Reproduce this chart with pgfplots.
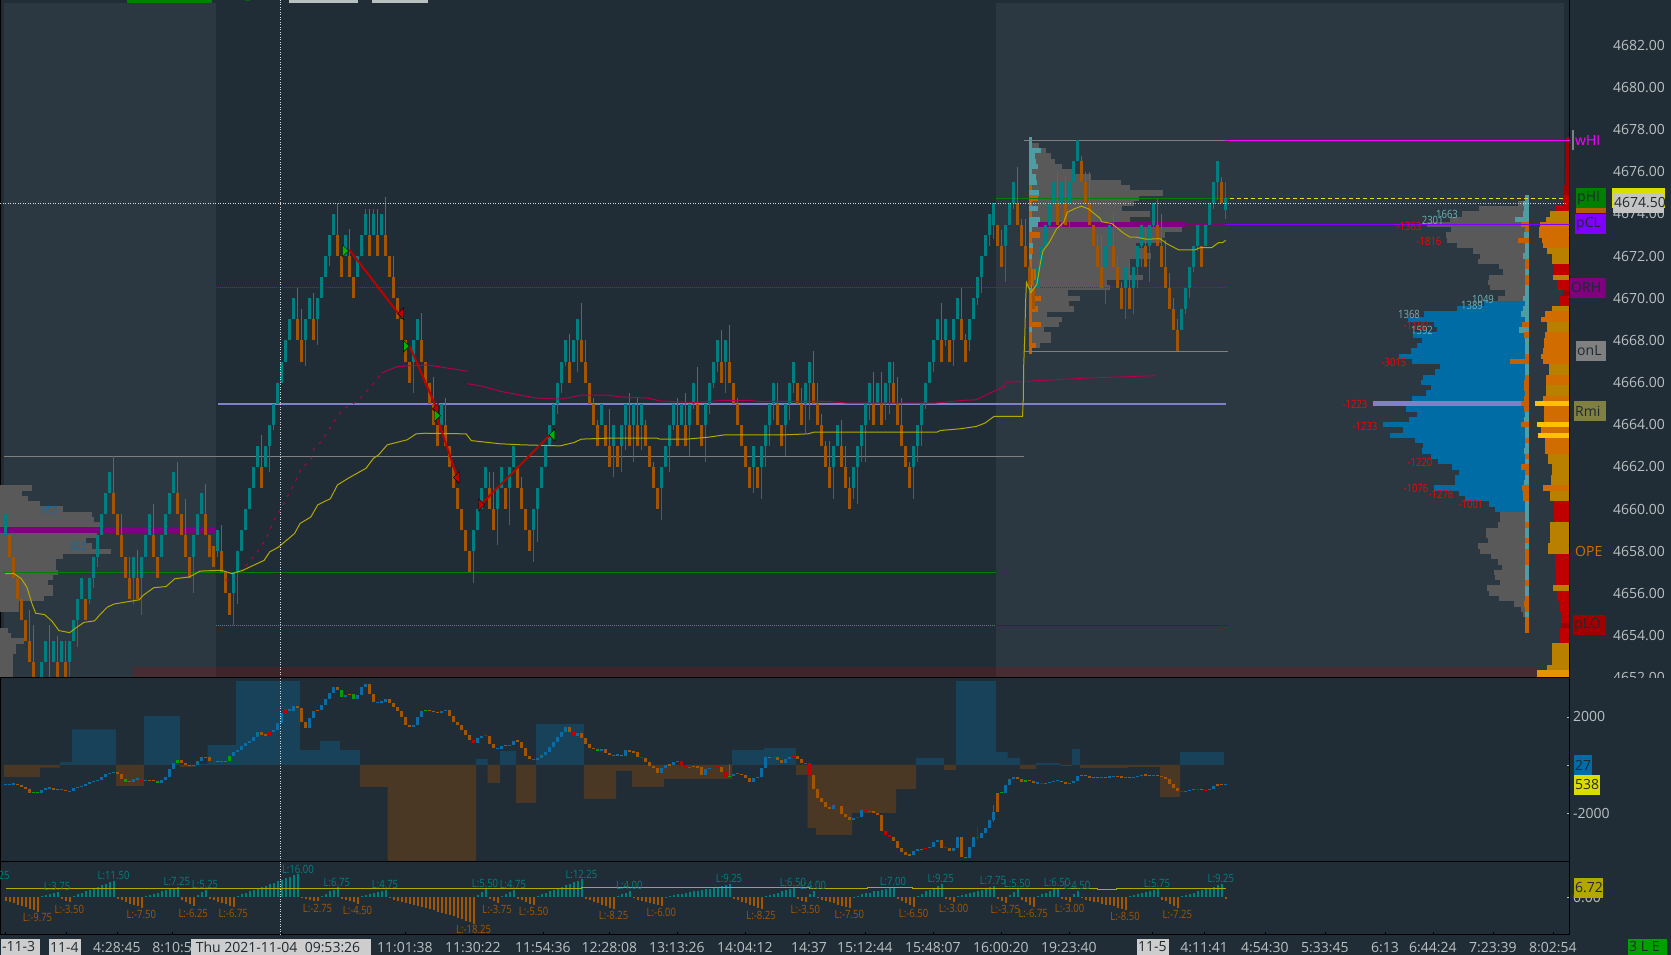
\documentclass[border=0pt]{standalone}
\usepackage{fontspec}
\setmainfont{Open Sans}
\usepackage{graphicx}
\usepackage{pgfplots}
\usepackage{pgfplotstable}
\pgfplotsset{compat=1.18}

\definecolor{bg}{HTML}{212D36}
\definecolor{bglight}{HTML}{2B3842}
\definecolor{up}{HTML}{007F80}
\definecolor{down}{HTML}{A35400}
\definecolor{tickc}{HTML}{B9C0C2}
\definecolor{gprof}{HTML}{595959}
\definecolor{colT}{HTML}{4F9CA3}
\definecolor{colO}{HTML}{C46000}
\definecolor{vred}{HTML}{C00000}
\definecolor{vgold}{HTML}{B98000}
\definecolor{vorange}{HTML}{D06C00}
\definecolor{vdark}{HTML}{A00000}
\definecolor{vyellow}{HTML}{FFC000}
\definecolor{vamber}{HTML}{E89400}
\definecolor{vblue}{HTML}{006CA5}
\definecolor{lav}{HTML}{8080C8}
\definecolor{vwap}{HTML}{B3A800}
\definecolor{maline}{HTML}{B0004E}
\definecolor{cvdblue}{HTML}{0B6BA5}
\definecolor{dpos}{HTML}{17425A}
\definecolor{dneg}{HTML}{4A3825}
\definecolor{tagdark}{HTML}{1F2A30}
\definecolor{pgreen}{HTML}{008000}
\definecolor{ppurple}{HTML}{800080}
\definecolor{pdot}{HTML}{990099}
\definecolor{pmag}{HTML}{FF00FF}
\definecolor{pviolet}{HTML}{8000FF}
\definecolor{plow}{HTML}{A55F1E}
\definecolor{pdred}{HTML}{8B0000}
\definecolor{tgreen}{HTML}{00B400}
\definecolor{pstrip}{HTML}{B06000}
\definecolor{polive}{HTML}{808040}
\definecolor{pyel}{HTML}{DCDC00}
\definecolor{pgrey}{HTML}{C4C4C4}
\definecolor{dtag}{HTML}{CDCDCD}
\definecolor{lgreen}{HTML}{00A000}

% renko bars: body low, wick above the body, wick below the body, 1 = up
\pgfplotstableread[row sep=\\]{
lo u d k\\
4658.75 0 .45 1\\4657.75 0 0 0\\4656.75 0 0 0\\4655.75 0 0 0\\4654.75 0 0 0\\4653.75 0 0 0\\4652.75 1.45 0 0\\4651.75 1.75 0 0\\4650.75 0 0 0\\4651.75 0 0 1\\
4652.75 0 0 1\\4650.75 2.75 0 0\\4652.75 0 0 1\\4651.75 1.25 0 0\\4652.75 0 0 1\\4651.75 1 0 0\\4652.75 0 1 1\\4653.75 0 0 1\\4654.75 0 1.3 1\\4655.75 0 0 1\\
4654.75 0 0 0\\4655.75 0 .25 1\\4656.75 0 .5 1\\4657.75 0 .5 1\\4658.75 0 0 1\\4659.75 0 0 1\\4660.75 0 0 1\\4659.75 1.75 0 0\\4658.75 0 0 0\\4657.75 1 0 0\\
4656.75 0 0 0\\4655.75 1 0 0\\4656.75 0 1.25 1\\4655.75 1.3 0 0\\4656.75 0 1.75 1\\4657.75 0 0 1\\4658.75 0 0 1\\4657.75 1.5 0 0\\4656.75 0 0 0\\4657.75 0 0 1\\
4658.75 0 0 1\\4659.75 0 0 1\\4660.75 0 0 1\\4659.75 1.5 0 0\\4658.75 0 0 0\\4657.75 1.75 0 0\\4656.75 0 0 0\\4657.75 0 1.75 1\\4658.75 0 0 1\\4659.75 0 0 1\\
4658.75 1.45 0 0\\4657.75 0 0 0\\4657.25 0 0 0\\4658 0 .25 1\\4657 1.25 0 0\\4656 0 0 0\\4655 0 0 0\\4656 0 1.5 1\\4657 0 1.5 1\\4658 0 0 1\\
4659 0 0 1\\4660 0 0 1\\4661 0 0 1\\4662 0 0 1\\4661 1.5 0 0\\4662 0 0 1\\4663 0 1.25 1\\4664 0 .25 1\\4665 0 0 1\\4666 0 0 1\\
4667 0 0 1\\4668 0 0 1\\4669 0 0 1\\4668 1.5 0 0\\4667 1.5 0 0\\4668 0 1.2 1\\4669 0 0 1\\4668 1.25 0 0\\4669 0 1.2 1\\4670 0 0 1\\
4671 0 0 1\\4672 0 .45 1\\4673 0 0 1\\4672 1.5 0 0\\4671 0 0 0\\4672 0 0 1\\4671 1.3 0 0\\4670 0 0 0\\4671 0 0 1\\4672 0 0 1\\
4673 .25 0 1\\4672 1.25 0 0\\4673 .25 0 1\\4672 1.25 0 0\\4673 0 0 1\\4672 1.8 0 0\\4671 0 0 0\\4670 1 0 0\\4669 0 0 0\\4668 0 0 0\\
4667 0 0 0\\4666 0 0 0\\4667 0 1.5 1\\4668 0 0 1\\4667 1.3 0 0\\4666 0 0 0\\4665 0 0 0\\4664 1.25 0 0\\4663 0 0 0\\4664 0 0 1\\
4663 1.25 0 0\\4662 0 0 0\\4661 0 0 0\\4660 0 0 0\\4659 0 0 0\\4658 0 0 0\\4657 0 0 0\\4658 0 1.5 1\\4659 0 0 1\\4660 0 0 1\\
4661 0 0 1\\4660 .75 0 0\\4659 1.75 0 0\\4660 0 1.7 1\\4661 0 0 1\\4660 0 0 0\\4661 0 1.75 1\\4662 0 0 1\\4661 0 0 0\\4660 .5 0 0\\
4659 0 0 0\\4658 0 0 0\\4659 0 1.5 1\\4660 0 1.55 1\\4661 0 0 1\\4662 0 0 1\\4663 0 0 1\\4664 0 0 1\\4665 0 .5 1\\4666 0 .5 1\\
4667 0 .2 1\\4666 1.3 0 0\\4667 0 0 1\\4668 0 1.5 1\\4667 1.8 0 0\\4666 1 0 0\\4665 0 0 0\\4664 .25 0 0\\4663 .25 0 0\\4664 0 0 1\\
4663 0 0 0\\4662 1.75 0 0\\4663 0 1.5 1\\4662 0 0 0\\4663 0 1.25 1\\4664 0 1.2 1\\4663 1.5 0 0\\4664 0 1.75 1\\4663 1.25 0 0\\4664 0 1.2 1\\
4663 .25 0 0\\4662 0 0 0\\4661 .25 0 0\\4660 0 0 0\\4661 0 1.5 1\\4662 0 0 1\\4663 0 1.25 1\\4664 0 .25 1\\4663 1.25 0 0\\4664 0 0 1\\
4663 1.5 0 0\\4664 0 1.5 1\\4665 0 .25 1\\4664 1.75 0 0\\4663 0 0 0\\4664 0 1.75 1\\4665 0 .5 1\\4666 0 .25 1\\4667 0 .5 1\\4666 1.5 0 0\\
4667 0 1.5 1\\4666 1.75 0 0\\4665 0 0 0\\4664 .25 0 0\\4663 0 0 0\\4662 0 0 0\\4661 0 0 0\\4662 0 1.25 1\\4661 0 0 0\\4662 0 1.5 1\\
4663 0 1 1\\4664 0 1 1\\4665 0 .75 1\\4664 1 0 0\\4663 0 0 0\\4664 0 1.5 1\\4665 0 .75 1\\4666 0 .5 1\\4665 0 0 0\\4664 .75 0 0\\
4665 0 1.4 1\\4666 0 1.75 1\\4665 1.5 0 0\\4664 1 0 0\\4663 .5 0 0\\4662 .25 0 0\\4661 1.25 0 0\\4662 0 1.5 1\\4663 0 0 1\\4662 1.25 0 0\\
4661 1 0 0\\4660 .5 0 0\\4661 0 .5 1\\4662 0 1.75 1\\4663 0 .75 1\\4664 0 1.75 1\\4665 0 .75 1\\4664 1.5 0 0\\4665 0 0 1\\4664 1.5 0 0\\
4665 0 .75 1\\4666 0 1.5 1\\4665 1 0 0\\4664 1.25 0 0\\4663 1.25 0 0\\4662 0 0 0\\4661 .25 0 0\\4662 0 1.5 1\\4663 0 .75 1\\4664 0 1 1\\
4665 0 .25 1\\4666 0 0 1\\4667 0 .5 1\\4668 0 0 1\\4667 1.8 0 0\\4668 0 .25 1\\4667 0 0 0\\4668 0 1.2 1\\4669 0 0 1\\4668 1.5 0 0\\
4667 .3 0 0\\4668 0 .5 1\\4669 0 0 1\\4670 0 .3 1\\4671 0 .75 1\\4672 0 0 1\\4673 0 .5 1\\4673.5 0 .7 1\\4672.5 0 0 0\\4671.5 .75 0 0\\
4672.5 0 1.75 1\\4673.5 0 0 1\\4674.5 0 .25 1\\4673.5 1.75 0 0\\4672.5 .25 0 0\\4671.5 1.25 0 0\\4670.5 .3 0 0\\4669.5 .9 0 0\\4670.5 0 .45 1\\4671.5 0 0 1\\
4672.5 0 1.65 1\\4673.5 0 .45 1\\4674.5 0 .25 1\\4673.5 1.5 0 0\\4674.5 0 1.5 1\\4673.5 1.25 0 0\\4674.5 0 1.5 1\\4675.5 0 1.25 1\\4676.5 0 0 1\\4675.5 .25 0 0\\
4674.5 .5 0 0\\4673.5 1.5 0 0\\4672.5 0 0 0\\4671.5 .5 0 0\\4670.5 1.5 0 0\\4671.5 0 1.75 1\\4672.5 0 0 1\\4671.5 1.5 0 0\\4670.5 .45 0 0\\4669.5 .25 0 0\\
4670.5 0 1.5 1\\4669.5 1.2 0 0\\4670.5 0 1.25 1\\4671.5 0 1 1\\4672.5 0 1 1\\4671.5 .9 0 0\\4672.5 0 1.75 1\\4673.5 0 .75 1\\4672.5 1.2 0 0\\4671.5 1.5 0 0\\
4670.5 1.25 0 0\\4669.5 .7 0 0\\4668.5 .5 0 0\\4667.5 .5 0 0\\4668.5 0 0 1\\4669.5 0 .25 1\\4670.5 0 .5 1\\4671.5 0 .25 1\\4672.5 0 .25 1\\4671.5 0 0 0\\
4672.5 0 0 1\\4673.5 0 0 1\\4674.5 0 .25 1\\4675.5 0 .85 1\\4674.5 .25 0 0\\
}\bars

% session profile, left side anchored; rows of 0.25 from 4677.5 down
\pgfplotstableread[row sep=\\]{
w c\\0 0\\1.75 0\\3.5 0\\4.75 0\\5.75 0\\7.5 0\\10 0\\14.75 0\\22.25 0\\24.5 0\\32.75 0\\26.75 0\\25.5 0\\22.5 0\\29.5 0\\24.5 0\\38.25 0\\37.5 0\\33.25 0\\32.25 0\\
26 0\\28.25 0\\29.75 0\\24.5 0\\24.5 0\\24.5 0\\27.75 0\\18.75 0\\19.5 0\\9 0\\12 0\\9.25 0\\10.5 0\\3.75 0\\7.5 0\\6.75 0\\3 0\\4.75 0\\4.75 0\\2 0\\
}\sessprof
\pgfplotstableread[row sep=\\]{
w c\\.75 1\\.75 1\\3 1\\1.5 1\\1.75 1\\2.25 1\\.75 1\\1.75 1\\2 1\\.75 0\\2.5 1\\2.25 0\\.75 0\\2.25 1\\.75 0\\2.75 1\\2.25 1\\.75 1\\2.75 0\\.75 0\\
1 1\\1 0\\.75 1\\.75 0\\.75 0\\1.75 0\\1.75 0\\1.25 0\\.75 1\\.75 0\\3 0\\1.25 0\\2.25 0\\.75 0\\.75 0\\3 0\\.75 1\\.75 0\\.75 0\\1.75 0\\.75 0\\
}\sesscol

% composite profile, right side anchored; rows of 0.25 from 4677.5 down
\pgfplotstableread[row sep=\\]{
w c\\0 0\\0 0\\0 0\\0 0\\0 0\\0 0\\0 0\\0 0\\0 0\\0 0\\0 0\\0 0\\
1.67 0\\11.5 0\\15.75 0\\18.75 0\\24.5 0\\18.5 0\\19.75 0\\19.5 0\\17 0\\13 0\\11.25 0\\11.75 0\\6.5 0\\5.5 0\\9 0\\9.25 0\\8.75 0\\5 0\\6.75 0\\
10.25 1\\17 1\\25.25 1\\29.25 1\\22.75 1\\22 1\\28 1\\25.75 1\\27 1\\28.5 1\\31.5 1\\28.25 1\\21.25 1\\22.5 1\\25.5 1\\26 1\\23.5 1\\24.75 1\\28.25 1\\
38 2\\29.75 1\\27 1\\29 1\\35.5 1\\30.5 1\\33.75 1\\27.5 1\\25.5 1\\25.75 1\\23.5 1\\21.75 1\\18.25 1\\16.5 1\\17.5 1\\17.5 1\\22.75 1\\16.5 1\\15 1\\9 1\\7.5 1\\
6.25 0\\6.25 0\\6.75 0\\9.75 0\\9.75 0\\9.25 0\\11.75 0\\11.25 0\\8.5 0\\6.75 0\\5.75 0\\7.75 0\\7.5 0\\6.25 0\\9.5 0\\9 0\\6.5 0\\2.75 0\\1 0\\.5 0\\
}\compprof
\pgfplotstableread[row sep=\\]{
w c\\0 3\\0 3\\0 3\\0 3\\0 3\\0 3\\0 3\\0 3\\0 3\\0 3\\0 3\\
1 1\\1.5 1\\1.3 1\\1.4 1\\3.5 1\\2 0\\1 0\\1.3 1\\2.75 0\\1 1\\1 1\\1.5 1\\1 0\\1 0\\1 1\\1 0\\1 0\\1 1\\1 1\\1.5 1\\1 1\\1.5 1\\2 1\\1 1\\1.75 0\\2.5 1\\1.25 0\\1 1\\1 1\\1 1\\
1 0\\4.75 0\\1 1\\1 1\\1 0\\1.3 0\\1.3 0\\1 0\\1.25 0\\2 0\\1.3 0\\1 1\\1.3 1\\2 0\\1 1\\1 1\\1 0\\1 1\\1.2 1\\1 0\\1 1\\2 0\\1 0\\1 1\\1.2 1\\1.75 0\\1.5 0\\1.5 0\\1 1\\1 1\\
1 1\\1 1\\1 0\\1 1\\1 1\\1 0\\1 1\\1 0\\1 0\\1 0\\1 1\\1 1\\1 1\\1 0\\1 1\\1 1\\1 0\\1.2 0\\1 0\\1 1\\1 0\\1 0\\1 0\\
}\compcol
% right-most volume histogram: c 1 red, 2 gold, 3 orange, 4 dark red, 5 yellow, 6 amber
\pgfplotstableread[row sep=\\]{
w c\\.75 4\\.75 4\\.75 4\\.75 4\\.75 4\\.75 4\\1 4\\1 4\\1 4\\1.25 4\\1.25 4\\1.25 1\\1.25 1\\3.5 1\\4.75 2\\5.75 2\\7.25 3\\7.5 3\\7.5 3\\6.75 3\\
6.5 3\\5.5 2\\4.25 2\\4.25 2\\3.75 1\\3.75 1\\4 2\\3 1\\3 1\\1.5 4\\2.25 1\\2.25 1\\4.25 2\\6 3\\7 3\\5.5 2\\5.5 2\\6 3\\6.25 3\\6.25 3\\
6.5 3\\7 3\\6.5 3\\5 2\\5 2\\5.75 3\\5.75 3\\5.75 2\\5.75 2\\6.5 3\\8.5 5\\6.25 3\\6.25 3\\6.25 3\\8 5\\7 3\\7.75 5\\6 3\\6 3\\6 3\\
5.25 2\\5.25 2\\4.25 2\\4.25 2\\4.5 2\\4.5 2\\6.5 3\\4.75 2\\4.75 2\\3.75 1\\3.75 1\\3.75 1\\3.75 1\\4.75 2\\4.75 2\\4.75 2\\4.75 2\\5.25 2\\5.25 2\\3.5 1\\
3.5 1\\3.25 1\\3.25 1\\3.25 1\\3.25 1\\4 2\\2.9 1\\2.9 1\\2.25 1\\2.25 1\\2 1\\2 1\\1.75 4\\2.25 1\\2.25 1\\2.25 1\\4.25 2\\4.25 2\\4.25 2\\4.25 2\\
5.5 2\\8 6\\8 6\\
}\volhist
% profile on the left session; rows of 0.25 from 4661 down
\pgfplotstableread[row sep=\\]{
w c\\8 0\\5.4 0\\7 0\\10 0\\15.7 0\\22.8 0\\23.4 0\\25.2 0\\26 0\\24.1 0\\21.4 0\\22.8 0\\27.7 0\\15.6 0\\13.8 0\\13.8 0\\14.3 0\\13.2 0\\12 0\\13.2 0\\13.2 0\\10.9 0\\4.6 0\\4.6 0\\0 0\\0 0\\0 0\\1.8 0\\2.7 0\\5.8 0\\4 0\\4 0\\3.2 0\\3.2 0\\3.2 0\\3.2 0\\3.2 0\\
}\leftprof

% session delta, value at each step edge
\pgfplotstableread[row sep=\\]{
e d\\-0.45 -496\\8.57 -110\\13.57 124\\16.6 1475\\27.6 -869\\34.55 2027\\43.57 -83\\47.6 41\\50.5 827\\57.6 3475\\73.6 620\\78.57 993\\83.57 620\\88.57 -910\\95.5 -3985\\117.6 248\\120.5 -745\\123.6 579\\127.6 -1572\\132.6 1696\\
144.55 -1407\\152.6 -248\\156.6 -910\\164.55 -579\\181.6 620\\189.55 703\\197.6 -414\\200.5 -2606\\202.6 -2896\\211.6 -1986\\222.6 -993\\227.6 290\\234.55 -207\\237.6 3475\\247.6 538\\250.5 290\\253.6 -165\\257.6 83\\263.6 -41\\266.6 662\\268.6 -124\\280.5 -83\\288.6 -1324\\293.6 538\\304.6 538\\
}\deltatbl

% cumulative delta closes; first row only gives the first open. k: 0 up, 1 down, 2 red, 3 green
\pgfplotstableread[row sep=\\]{
c k\\-830 0\\-800 0\\-790 0\\-790 0\\-830 1\\-900 1\\-990 1\\-1140 1\\-1160 3\\-1140 3\\-1030 0\\-970 0\\-940 0\\-1030 1\\-1030 1\\-1030 0\\-1090 1\\-1080 0\\-970 0\\-910 0\\-850 0\\-790 0\\-720 0\\-660 0\\-620 0\\-510 0\\-370 0\\-330 0\\-280 0\\-390 1\\-570 1\\-690 3\\-690 3\\-590 0\\-570 0\\-680 2\\-620 0\\-650 1\\-660 1\\-730 3\\-610 0\\-480 0\\-170 0\\70 0\\190 3\\100 1\\10 1\\-30 1\\10 0\\180 0\\320 0\\320 1\\170 1\\150 2\\150 1\\140 3\\150 1\\370 3\\550 0\\620 0\\790 0\\920 0\\990 0\\1140 0\\1370 0\\1240 1\\1240 1\\1370 2\\1450 0\\1720 0\\2140 0\\2300 2\\2250 0\\2440 0\\2340 1\\1790 1\\1520 1\\1930 0\\2230 0\\2280 1\\2480 0\\2730 0\\2960 0\\3210 0\\3100 1\\2800 3\\2900 0\\2940 1\\2720 3\\2900 0\\3210 0\\3350 0\\2940 1\\2590 1\\2590 0\\2620 0\\2730 0\\2550 1\\2390 1\\2250 1\\2000 1\\1650 1\\1560 1\\1650 0\\2000 0\\2250 0\\2250 3\\2250 1\\2180 1\\2140 1\\2250 0\\2280 0\\2040 1\\1790 1\\1650 1\\1450 1\\1240 1\\1030 1\\920 2\\1100 0\\1210 0\\1200 2\\870 1\\690 1\\660 0\\790 0\\790 1\\830 0\\1010 0\\970 1\\690 1\\370 1\\230 1\\210 0\\280 0\\410 0\\550 0\\730 0\\970 0\\1170 0\\1380 0\\1590 0\\1380 1\\1210 2\\1310 0\\1100 1\\870 1\\690 1\\650 1\\590 3\\680 0\\510 1\\410 1\\400 0\\430 0\\370 1\\620 0\\550 1\\520 1\\320 1\\280 2\\140 1\\-30 1\\-120 1\\-340 1\\-140 0\\0 0\\0 1\\140 0\\180 0\\0 2\\-140 2\\-70 0\\-70 1\\-100 1\\-410 1\\-180 0\\-110 0\\-70 2\\-100 2\\-280 1\\-480 2\\-440 3\\-370 0\\-360 0\\-410 1\\-550 1\\-720 1\\-550 0\\-480 0\\-140 0\\320 0\\320 1\\320 2\\210 1\\70 1\\250 0\\320 0\\370 2\\250 1\\70 1\\70 0\\-410 2\\-1010 1\\-1380 1\\-1540 1\\-1750 1\\-1820 1\\-1650 0\\-1700 2\\-2030 1\\-2170 1\\-2280 1\\-2210 0\\-2140 2\\-1860 0\\-1930 2\\-1920 0\\-2000 1\\-2070 1\\-2720 1\\-2900 2\\-2960 2\\-3130 1\\-3450 1\\-3610 1\\-3720 1\\-3720 1\\-3540 0\\-3480 0\\-3480 1\\-3450 2\\-3380 0\\-3170 0\\-3100 0\\-3420 1\\-3420 2\\-3560 1\\-3450 0\\-2960 0\\-3820 1\\-3860 3\\-3410 0\\-2990 0\\-3030 2\\-2830 0\\-2620 0\\-2280 0\\-1930 0\\-1140 1\\-1140 3\\-830 0\\-590 0\\-510 0\\-590 1\\-690 1\\-620 3\\-660 1\\-730 1\\-760 0\\-770 2\\-760 0\\-700 0\\-660 0\\-650 0\\-700 1\\-790 1\\-760 0\\-660 0\\-460 0\\-410 1\\-440 1\\-520 1\\-520 3\\-540 1\\-510 0\\-510 1\\-480 0\\-460 0\\-480 1\\-520 1\\-510 0\\-520 1\\-510 0\\-460 0\\-400 0\\-430 1\\-470 1\\-410 0\\-460 1\\-510 1\\-590 1\\-790 1\\-970 1\\-1060 1\\-1120 2\\-1060 0\\-1030 0\\-990 0\\-1010 2\\-1030 3\\-1050 2\\-990 0\\-850 0\\-800 1\\-810 1\\-830 0\\
}\cvd

% swing histogram in points, one value per bar
\pgfplotstableread[row sep=\\]{
v\\-2.5\\-3.25\\-4\\-5\\-5.75\\-6.75\\-7.75\\-8.75\\-9.75\\1\\1.5\\2\\3\\3.75\\-1.25\\-2.25\\-3.5\\1\\2\\3\\4\\5.25\\6\\7\\8.25\\9.25\\10.25\\11.5\\-1\\-2\\-3\\-4.25\\-5.25\\-6.25\\-7.5\\.75\\1.5\\2.5\\3.25\\4\\5\\5.75\\6.5\\7.25\\-1.5\\-3\\-4.75\\-6.25\\1.75\\3.5\\5.25\\-1\\-2\\-3\\-4\\-4.75\\-5.75\\-6.75\\1\\2\\3\\4\\5\\6\\7\\8\\9\\10\\11\\12\\13\\14\\15\\16\\-.5\\-1\\-1.5\\-2.25\\-2.75\\1.25\\2.5\\4\\5.25\\6.75\\-1\\-2\\-2.75\\-3.5\\-4.5\\.75\\1.5\\2.25\\3\\3.5\\4.25\\4.75\\-.75\\-1.5\\-2.25\\-3\\-3.75\\-4.5\\-5.25\\-6\\-6.75\\-7.5\\-8.25\\-9\\-9.75\\-10.5\\-11.25\\-12\\-13\\-14\\-15\\-16\\-17\\-18.25\\1.75\\3.5\\5.5\\-1.25\\-2.5\\-3.75\\1.25\\2.5\\3.5\\4.75\\-1\\-2\\-3.25\\-4.25\\-5.5\\1\\2\\3\\4\\5\\6.25\\7.25\\8.25\\9.25\\10.25\\11.25\\12.25\\-1\\-2\\-3\\-4\\-5\\-6\\-7\\-8.25\\1\\2\\3\\4\\-.75\\-1.5\\-2.25\\-3\\-3.75\\-4.5\\-5.25\\-6\\.5\\1\\1.5\\2\\2.5\\3\\3.5\\4\\4.5\\5\\5.5\\6\\6.5\\7\\7.75\\8.5\\9.25\\-1\\-2\\-3\\-4\\-5\\-6\\-7\\-8.25\\.75\\1.5\\2.5\\3.25\\4\\4.75\\5.75\\6.5\\-1.25\\-2.25\\-3.5\\2\\4\\-.75\\-1.5\\-2.5\\-3.25\\-4\\-5\\-5.75\\-6.5\\-7.5\\.5\\1.25\\2\\2.75\\3.25\\4\\4.5\\5.25\\5.75\\6.5\\7\\-1.25\\-2.5\\-3.75\\-5\\-6.5\\1.25\\2.5\\4\\5.25\\6.5\\7.75\\9.25\\-1\\-2\\-3\\.75\\1.5\\2.25\\3\\3.75\\4.5\\5.25\\6\\7\\7.75\\-1.25\\-2.5\\-3.75\\1.75\\3.5\\5.5\\-1.75\\-3.5\\-5\\-6.75\\1\\2\\3.25\\4.25\\5.5\\6.5\\-1\\-2\\-3\\2.25\\4.5\\-.75\\-1.5\\-2.25\\-3\\-3.5\\-4.25\\-5\\-5.5\\-6.25\\-7\\-7.75\\-8.5\\.75\\1.5\\2.25\\3\\3.5\\4.25\\5\\5.75\\-1.5\\-2.75\\-4.25\\-5.75\\-7.25\\.75\\1.5\\2.5\\3.25\\4\\5\\5.75\\6.5\\7.25\\8.25\\9.25\\-1\\
}\swing

\pgfplotsset{
  panel/.style={scale only axis,width=1570pt,xmin=-1.425,xmax=391.075,clip=true,
    axis line style={black,line width=1pt},xtick=\empty,ytick pos=right,
    /pgf/number format/assume math mode=true},
  lbl/.style={font=\fontsize{14}{14}\selectfont,text=tickc},
}
% each family of bars is one path with jumps, so that it stays light on memory
\newcommand{\seg}[2]{\edef\temp{\noexpand\addplot[color=#1,line width=#2,unbounded coords=jump,no markers] coordinates {\segs};}\temp}
\newcommand{\hrows}[6]{% table, anchor x, top price, code, colour, direction
  \gdef\segs{}%
  \pgfplotstablegetrowsof{#1}\pgfmathtruncatemacro\lastrow{\pgfplotsretval-1}%
  \foreach \r in {0,...,\lastrow}{%
    \pgfplotstablegetelem{\r}{c}\of{#1}\let\cc\pgfplotsretval
    \ifnum\cc=#4\relax
      \pgfplotstablegetelem{\r}{w}\of{#1}\let\ww\pgfplotsretval
      \pgfmathsetmacro\ya{#3-0.25*\r}\pgfmathsetmacro\xb{#2+#6*\ww}%
      \xdef\segs{\segs(#2,\ya)(\xb,\ya)(#2,nan)}%
    \fi}%
  \seg{#5}{5.4pt}}
\newcommand{\candles}[2]{%
  \gdef\segs{}\gdef\segb{}%
  \pgfplotstablegetrowsof{\bars}\pgfmathtruncatemacro\lastrow{\pgfplotsretval-1}%
  \foreach \r in {0,...,\lastrow}{%
    \pgfplotstablegetelem{\r}{k}\of{\bars}\let\cc\pgfplotsretval
    \ifnum\cc=#1\relax
      \pgfplotstablegetelem{\r}{lo}\of{\bars}\let\lo\pgfplotsretval
      \pgfplotstablegetelem{\r}{u}\of{\bars}\let\uu\pgfplotsretval
      \pgfplotstablegetelem{\r}{d}\of{\bars}\let\dd\pgfplotsretval
      \pgfmathsetmacro\hi{\lo+1}\pgfmathsetmacro\wa{\lo-\dd}\pgfmathsetmacro\wb{\hi+\uu}%
      \xdef\segs{\segs(\r,\wa)(\r,\wb)(\r,nan)}%
      \xdef\segb{\segb(\r,\lo)(\r,\hi)(\r,nan)}%
    \fi}%
  \seg{#2}{1pt}%
  \global\let\segs\segb
  \seg{#2}{3pt}}
\newcommand{\cvdbars}[2]{%
  \gdef\segs{}%
  \pgfplotstablegetelem{0}{c}\of{\cvd}\global\let\prevc\pgfplotsretval
  \pgfplotstablegetrowsof{\cvd}\pgfmathtruncatemacro\lastrow{\pgfplotsretval-1}%
  \foreach \r in {1,...,\lastrow}{%
    \pgfplotstablegetelem{\r}{c}\of{\cvd}\let\cur\pgfplotsretval
    \pgfplotstablegetelem{\r}{k}\of{\cvd}\let\cc\pgfplotsretval
    \ifnum\cc=#1\relax
      \pgfmathsetmacro\xx{\r-1}%
      \pgfmathsetmacro\mid{(\cur+\prevc)/2}\pgfmathsetmacro\hh{max(abs(\cur-\prevc)/2,25)}%
      \pgfmathsetmacro\ya{\mid-\hh}\pgfmathsetmacro\yb{\mid+\hh}%
      \xdef\segs{\segs(\xx,\ya)(\xx,\yb)(\xx,nan)}%
    \fi
    \global\let\prevc\cur}%
  \seg{#2}{3pt}}
\newcommand{\hl}[4]{\addplot[#1] coordinates {(#2,#4)(#3,#4)};}
\newcommand{\tx}[4]{\node[inner sep=0pt,text=#3,font=\fontsize{9.5}{9.5}\selectfont] at ({#1*1pt},{(955-#2)*1pt}) {\scalebox{1}[1.2]{#4}};}
\newcommand{\tagbox}[6]{% x1 py1 x2 py2 fill text
  \fill[#5] ({#1*1pt},{(955-#2)*1pt}) rectangle ({#3*1pt},{(955-#4)*1pt});
  \node[inner sep=0pt,anchor=west,text=tagdark,font=\fontsize{14}{14}\selectfont] at ({(#1+1)*1pt},{(955-(#2+#4)/2)*1pt}) {#6};}

\begin{document}
\begin{tikzpicture}
\useasboundingbox (0pt,0pt) rectangle (1671pt,955pt);
\fill[bg] (0pt,0pt) rectangle (1671pt,955pt);

% price panel
\begin{axis}[panel,at={(0pt,277pt)},anchor=south west,height=678pt,ymin=4651.99,ymax=4684.15,
  ytick={4652,4654,...,4682},major tick length=0pt,
  yticklabel style={lbl,anchor=west,inner sep=0pt,xshift=43pt,/pgf/number format/.cd,fixed,fixed zerofill,precision=2,1000 sep={}}]
\addplot[fill=bglight,draw=none] coordinates {(-0.43,4651.99)(52.6,4651.99)(52.6,4684)(-0.43,4684)} -- cycle;
\addplot[fill=bglight,draw=none] coordinates {(247.6,4651.99)(389.6,4651.99)(389.6,4684)(247.6,4684)} -- cycle;
% profiles
\hrows{\leftprof}{-1.3}{4661}{0}{gprof}{1}
\hl{ppurple,line width=6pt}{-1.4}{52.6}{4659}
\hrows{\sessprof}{256.6}{4677.5}{0}{gprof}{1}
\hl{ppurple,line width=1.6pt}{294.8}{304.8}{4673.5}
\hl{ppurple,line width=5pt}{258.1}{294.8}{4673.5}
\hrows{\sesscol}{255.8}{4677.5}{1}{colT}{1}
\hrows{\sesscol}{255.8}{4677.5}{0}{colO}{1}
\hrows{\compprof}{379.8}{4677.5}{0}{gprof}{-1}
\hrows{\compprof}{379.8}{4677.5}{1}{vblue}{-1}
\hrows{\compprof}{379.8}{4677.5}{2}{lav}{-1}
\hrows{\compcol}{380.8}{4677.5}{1}{colT}{-1}
\hrows{\compcol}{380.8}{4677.5}{0}{colO}{-1}
\hrows{\volhist}{390.8}{4677.5}{4}{vdark}{-1}
\hrows{\volhist}{390.8}{4677.5}{1}{vred}{-1}
\hrows{\volhist}{390.8}{4677.5}{2}{vgold}{-1}
\hrows{\volhist}{390.8}{4677.5}{3}{vorange}{-1}
\hrows{\volhist}{390.8}{4677.5}{5}{vyellow}{-1}
\hrows{\volhist}{390.8}{4677.5}{6}{vamber}{-1}
% levels
\hl{gray,line width=1pt}{254.6}{305.6}{4677.5}
\hl{pmag,line width=1pt}{304.8}{391}{4677.5}
\hl{pgreen,line width=1pt}{247.6}{306}{4674.75}
\hl{yellow!90!black,line width=1pt,dash pattern=on 4pt off 3pt}{306}{389.8}{4674.75}
\hl{pviolet,line width=1pt}{304.8}{391}{4673.5}
\hl{pdot,line width=1pt,dash pattern=on 1pt off 1pt}{52.6}{305.6}{4670.5}
\hl{lav,line width=2pt}{53.1}{305.1}{4665}
\hl{gray,line width=1pt}{-0.43}{254.6}{4662.5}
\hl{gray,line width=1pt}{254.6}{305.6}{4667.5}
\hl{pgreen,line width=1pt}{-0.43}{247.6}{4657}
\hl{plow,line width=1pt,dash pattern=on 1pt off 1pt}{52.6}{247.6}{4654.5}
\hl{pdred,line width=1pt}{247.6}{305.6}{4654.5}
% bars
\candles{1}{up}
\candles{0}{down}
\addplot[up,line width=1pt] coordinates {(305,4673.75)(305,4675.5)};
\addplot[up,line width=3pt] coordinates {(305,4674.2)(305,4674.75)};
% moving averages
\addplot[maline,line width=1pt,dash pattern=on 3pt off 6pt] coordinates {
(55,4656.62)(57.9,4656.7)(60.2,4657.33)(62.9,4657.97)(65.1,4658.6)(67.3,4659.56)(69.1,4660.11)(70,4660.46)(71.8,4661.06)(74,4661.94)(76.3,4662.33)(77.1,4662.89)(78.9,4663.2)(82.1,4664.16)(84.3,4664.75)(87.9,4665.11)(91.4,4665.83)(94.1,4666.46)};
\addplot[maline,line width=1pt] coordinates {
(94.1,4666.46)(97.7,4666.75)(101.3,4666.81)(105.7,4666.83)(110.2,4666.7)(115.5,4666.54)};
\addplot[maline,line width=1pt] coordinates {
(115.5,4665.95)(119.1,4665.83)(123.6,4665.59)(128,4665.43)(132.5,4665.27)(138.6,4665.22)(141.3,4665.3)(143.9,4665.41)(150.2,4665.41)(153.8,4665.32)(160.4,4665.27)(163.6,4665.13)(172.5,4665.06)(179.6,4665.16)(186.3,4665.16)(187.7,4665.11)(205.5,4665.11)(210.4,4665.03)(232.3,4665.03)(239.5,4665.16)(242.6,4665.19)(245.3,4665.43)(249.7,4665.83)(250.2,4666.02)(254.6,4666.06)(262.7,4666.14)(270.7,4666.22)(278.6,4666.27)(287.3,4666.33)};
\addplot[vwap,line width=1pt] coordinates {
(-0.2,4656.94)(2.1,4656.94)(3.9,4656.7)(5.3,4656.3)(6.6,4655.5)(7.5,4655.06)(9.7,4655)(11.5,4654.7)(13.3,4654.24)(16,4654.14)(17.8,4654.4)(19.6,4654.63)(22.2,4654.7)(23.6,4655)(25.4,4655.35)(27.1,4655.5)(30.3,4655.6)(33.4,4655.7)(34.3,4655.9)(37,4656.27)(40.1,4656.33)(42.3,4656.7)(45.9,4656.78)(48.6,4657.06)(53.9,4657.1)(56.6,4656.94)(59.3,4657.1)(64.6,4657.57)(66,4657.97)(68.2,4658.2)(72.2,4658.84)(73.6,4659.32)(76.3,4659.63)(78,4660.2)(81.2,4660.5)(82.9,4661.14)(85.6,4661.46)(90.1,4661.94)(91.9,4662.4)(93.2,4662.57)(95.4,4663.05)(100.4,4663.29)(102.6,4663.57)(104.8,4663.6)(115.1,4663.57)(116.4,4663.25)(123.6,4663.1)(128.9,4663.05)(138.6,4663)(142.1,4663.16)(143.9,4663.32)(151.1,4663.37)(162.7,4663.37)(163.6,4663.32)(170.3,4663.32)(175.6,4663.41)(179.6,4663.52)(194.4,4663.52)(200.6,4663.57)(202,4663.65)(216.3,4663.65)(232.8,4663.65)(233.7,4663.73)(238.6,4663.81)(242.6,4663.92)(244.8,4664.08)(247.1,4664.4)(254.2,4664.4)(254.4,4665.19)(254.5,4666.78)(254.8,4668.37)(255,4669.95)(255.2,4670.75)(256.3,4670.27)(257.8,4670.67)(258.7,4671.7)(259.3,4672.25)(260.9,4672.65)(262.7,4673.29)(264.5,4673.6)(265.4,4674.08)(267.1,4674.24)(268.9,4674.37)(270.7,4674.24)(273.6,4673.79)(274,4673.63)(276.5,4673.55)(279.4,4673.1)(281.1,4672.9)(282.7,4672.9)(285.2,4672.8)(288.6,4672.83)(290.2,4672.6)(293.2,4672.3)(297.3,4672.3)(298.6,4672.4)(301.5,4672.4)(303.2,4672.64)(304.2,4672.64)(305,4672.75)};
% trades
\addplot[vred,line width=2pt] coordinates {(85.9,4672.3)(99,4669.08)};
\addplot[vred,line width=2pt] coordinates {(101,4667.73)(107.7,4664.8)};
\addplot[vred,line width=2pt] coordinates {(107.7,4664.43)(112.9,4661.5)};
\addplot[vred,line width=2pt] coordinates {(118.7,4660.2)(136.1,4663.52)};
\addplot[only marks,mark=triangle*,mark size=7pt,mark options={draw=none,fill=vred,rotate=90,yscale=.57}] coordinates {(99,4669.27)(107.7,4664.75)(112.9,4661.5)};
\addplot[only marks,mark=triangle*,mark size=7pt,mark options={draw=none,fill=vred,rotate=-90,yscale=.57}] coordinates {(118.7,4660.2)};
\addplot[only marks,mark=triangle*,mark size=7pt,mark options={draw=none,fill=tgreen,rotate=-90,yscale=.57}] coordinates {(84.7,4672.25)(99.9,4667.73)(107.7,4664.43)};
\addplot[only marks,mark=triangle*,mark size=7pt,mark options={draw=none,fill=tgreen,rotate=90,yscale=.57}] coordinates {(136.8,4663.52)};
% bottom band, crosshair
\addplot[fill=vred,fill opacity=.2,draw=none] coordinates {(31.8,4651.99)(382.8,4651.99)(382.8,4652.5)(31.8,4652.5)} -- cycle;
\hl{white!85!black,line width=1pt,dash pattern=on 1pt off 1.5pt}{-1.4}{390}{4674.5}
\addplot[white!85!black,line width=1pt,dash pattern=on 1pt off 1.5pt] coordinates {(68.8,4651.99)(68.8,4684.15)};
\end{axis}

\fill[bg] (1571pt,0pt) rectangle (1671pt,277pt);

% delta panel
\begin{axis}[panel,at={(0pt,93pt)},anchor=south west,height=184pt,ymin=-4013,ymax=3599,
  ytick={-2000,0,2000},yticklabels={-2000,,2000},major tick length=3pt,tick style={tickc},
  yticklabel style={lbl,anchor=west,inner sep=0pt,xshift=3pt}]
\addplot[const plot,fill=dpos,draw=none] table[x=e,y expr={max(\thisrow{d},0)}] {\deltatbl} \closedcycle;
\addplot[const plot,fill=dneg,draw=none] table[x=e,y expr={min(\thisrow{d},0)}] {\deltatbl} \closedcycle;
\addplot[cvdblue,line width=1pt] coordinates {(247,-2344)(247,-1655)};
\addplot[vred,line width=1pt] coordinates {(243,-3103)(243,-2579)};
\addplot[lgreen,line width=1pt] coordinates {(181,-483)(181,41)};
\cvdbars{0}{cvdblue}
\cvdbars{1}{down}
\cvdbars{2}{vred}
\cvdbars{3}{lgreen}
\addplot[white!85!black,line width=1pt,dash pattern=on 1pt off 1.5pt] coordinates {(68.8,-4013)(68.8,3599)};
\end{axis}

% swing panel
\begin{axis}[panel,at={(0pt,20pt)},anchor=south west,height=73pt,ymin=-25.8,ymax=24.2,
  ytick={0},yticklabels={0.00},major tick length=3pt,
  ytick style={tickc},xtick style={black},
  xtick pos=bottom,
  xtick={-0.2,15,27.8,41.6,68.8,99.8,116.8,134.3,150.9,167.8,184.8,200.8,214.8,231.8,248.8,265.8,286.6,299.6,314.8,329.8,344.8,356.8,371.8,386.8},
  xticklabels={,,4:28:45,8:10:5,,11:01:38,11:30:22,11:54:36,12:28:08,13:13:26,14:04:12,14:37,15:12:44,15:48:07,16:00:20,19:23:40,,4:11:41,4:54:30,5:33:45,6:13,6:44:24,7:23:39,8:02:54},
  xticklabel style={lbl,anchor=base,inner sep=0pt,yshift=-18pt},
  yticklabel style={lbl,anchor=west,inner sep=0pt,xshift=3pt}]
\addplot[ycomb,up,line width=2pt,restrict y to domain=0:100] table[x expr=\coordindex,y=v] {\swing};
\addplot[ycomb,down,line width=2pt,restrict y to domain=-100:0] table[x expr=\coordindex,y=v] {\swing};
\addplot[const plot,vwap,line width=1pt] coordinates {(0,6.16)(144,6.85)(201,6.16)(215.4,6.85)(226.8,6.16)(273,5.5)(277.7,6.16)(305,6.16)};
\addplot[white!85!black,line width=1pt,dash pattern=on 1pt off 1.5pt] coordinates {(68.8,-25.8)(68.8,24.2)};
\end{axis}

% tags along the top
\fill[green!50!black] (127pt,952pt) rectangle (212pt,955pt);
\fill[tickc] (289pt,952pt) rectangle (358pt,955pt);
\fill[tickc] (372pt,952pt) rectangle (428pt,955pt);
\fill[green!40!black] (245pt,954pt) rectangle (250pt,955pt);

% labels on the profiles
\tx{50}{510}{cvdblue}{955}
\tx{77.9}{546.7}{cvdblue}{502}
\tx{1447}{214}{colT!80!white}{1663}
\tx{1432.7}{220.7}{colT!80!white}{2301}
\tx{1409}{226}{red}{-1363}
\tx{1429}{241.7}{red}{-1816}
\tx{1483}{299.7}{colT!80!white}{1049}
\tx{1472}{305}{colT!80!white}{1389}
\tx{1409}{314.7}{colT!80!white}{1368}
\tx{1416}{325.7}{red}{-1190}
\tx{1422}{330.7}{colT!80!white}{1592}
\tx{1394}{362.7}{red}{-3015}
\tx{1355}{404.7}{red}{-1223}
\tx{1365}{426}{red}{-1233}
\tx{1420}{462.7}{red}{-1220}
\tx{1416}{488.7}{red}{-1076}
\tx{1441}{494}{red}{-1278}
\tx{1471}{504.7}{red}{-1001}

% swing labels
\tx{4}{875.5}{up}{25}
\tx{57.1}{886.7}{up}{L:3.75}
\tx{113.6}{875.7}{up}{L:11.50}
\tx{176.8}{881.7}{up}{L:7.25}
\tx{205}{884.3}{up}{L:5.25}
\tx{297.9}{869.3}{up}{L:16.00}
\tx{336.8}{882.7}{up}{L:6.75}
\tx{385}{884.3}{up}{L:4.75}
\tx{485}{883.3}{up}{L:5.50}
\tx{512.9}{884.3}{up}{L:4.75}
\tx{581.4}{874.3}{up}{L:12.25}
\tx{629.3}{885.3}{up}{L:4.00}
\tx{729}{878.3}{up}{L:9.25}
\tx{792.9}{882.3}{up}{L:6.50}
\tx{812.9}{885.3}{up}{L:4.00}
\tx{892.9}{881.3}{up}{L:7.00}
\tx{940.7}{878.3}{up}{L:9.25}
\tx{992.9}{880.3}{up}{L:7.75}
\tx{1017.1}{883.3}{up}{L:5.50}
\tx{1057.1}{882.3}{up}{L:6.50}
\tx{1077.1}{885.3}{up}{L:4.50}
\tx{1156.9}{883.3}{up}{L:5.75}
\tx{1220.8}{878.3}{up}{L:9.25}
\tx{37.5}{917.7}{down}{L:-9.75}
\tx{69.3}{909.3}{down}{L:-3.50}
\tx{141.4}{914.3}{down}{L:-7.50}
\tx{193.2}{913.3}{down}{L:-6.25}
\tx{233.2}{913.3}{down}{L:-6.75}
\tx{317.5}{908.7}{down}{L:-2.75}
\tx{357.5}{910.7}{down}{L:-4.50}
\tx{473.6}{929.3}{down}{L:-18.25}
\tx{497.1}{909.3}{down}{L:-3.75}
\tx{533.6}{911.3}{down}{L:-5.50}
\tx{613.6}{915.7}{down}{L:-8.25}
\tx{661.4}{912.3}{down}{L:-6.00}
\tx{761}{915.7}{down}{L:-8.25}
\tx{805.4}{909.3}{down}{L:-3.50}
\tx{849.3}{914.3}{down}{L:-7.50}
\tx{913.6}{913.3}{down}{L:-6.50}
\tx{953.6}{908.3}{down}{L:-3.00}
\tx{1005.4}{909.3}{down}{L:-3.75}
\tx{1033.2}{913.3}{down}{L:-6.75}
\tx{1069.6}{908.3}{down}{L:-3.00}
\tx{1125}{916.3}{down}{L:-8.50}
\tx{1177.3}{914.3}{down}{L:-7.25}

% price tags
\fill[gray] (1572pt,805pt) rectangle (1574pt,825pt);
\node[inner sep=0pt,anchor=west,text=pmag,font=\fontsize{14}{14}\selectfont] at (1575pt,814pt) {wHI};
\fill[pstrip] (1576pt,742pt) rectangle (1606pt,747pt);
\tagbox{1576}{188}{1606}{208}{pgreen}{pHI}
\tagbox{1575}{214}{1606}{234}{pviolet}{pCL}
\tagbox{1570}{278}{1606}{298}{ppurple}{ORH}
\tagbox{1576}{341}{1606}{361}{gray}{onL}
\tagbox{1574}{401}{1606}{421}{polive}{Rmi}
\node[inner sep=0pt,anchor=west,text=vorange,font=\fontsize{14}{14}\selectfont] at (1575pt,403.3pt) {OPE};
\tagbox{1573}{615}{1606}{635}{vdark}{pLO}
\fill[pyel] (1612pt,747pt) rectangle (1665pt,767pt);
\tagbox{1613}{193}{1664}{213}{pgrey}{4674.50}
\tagbox{1574}{755}{1592}{775}{vblue}{27}
\tagbox{1574}{775}{1600}{795}{pyel}{538}
\tagbox{1574}{878}{1603}{898}{vwap}{6.72}

% date tags on the time axis
\tagbox{1}{939}{40}{955}{dtag}{-11-3}
\tagbox{49}{939}{81}{955}{dtag}{11-4}
\tagbox{191}{939}{371}{955}{dtag}{\ Thu 2021-11-04 \ 09:53:26}
\tagbox{1137}{939}{1169}{955}{dtag}{11-5}
\tagbox{1628}{939}{1667}{955}{lgreen}{3 L E}
\end{tikzpicture}
\end{document}
